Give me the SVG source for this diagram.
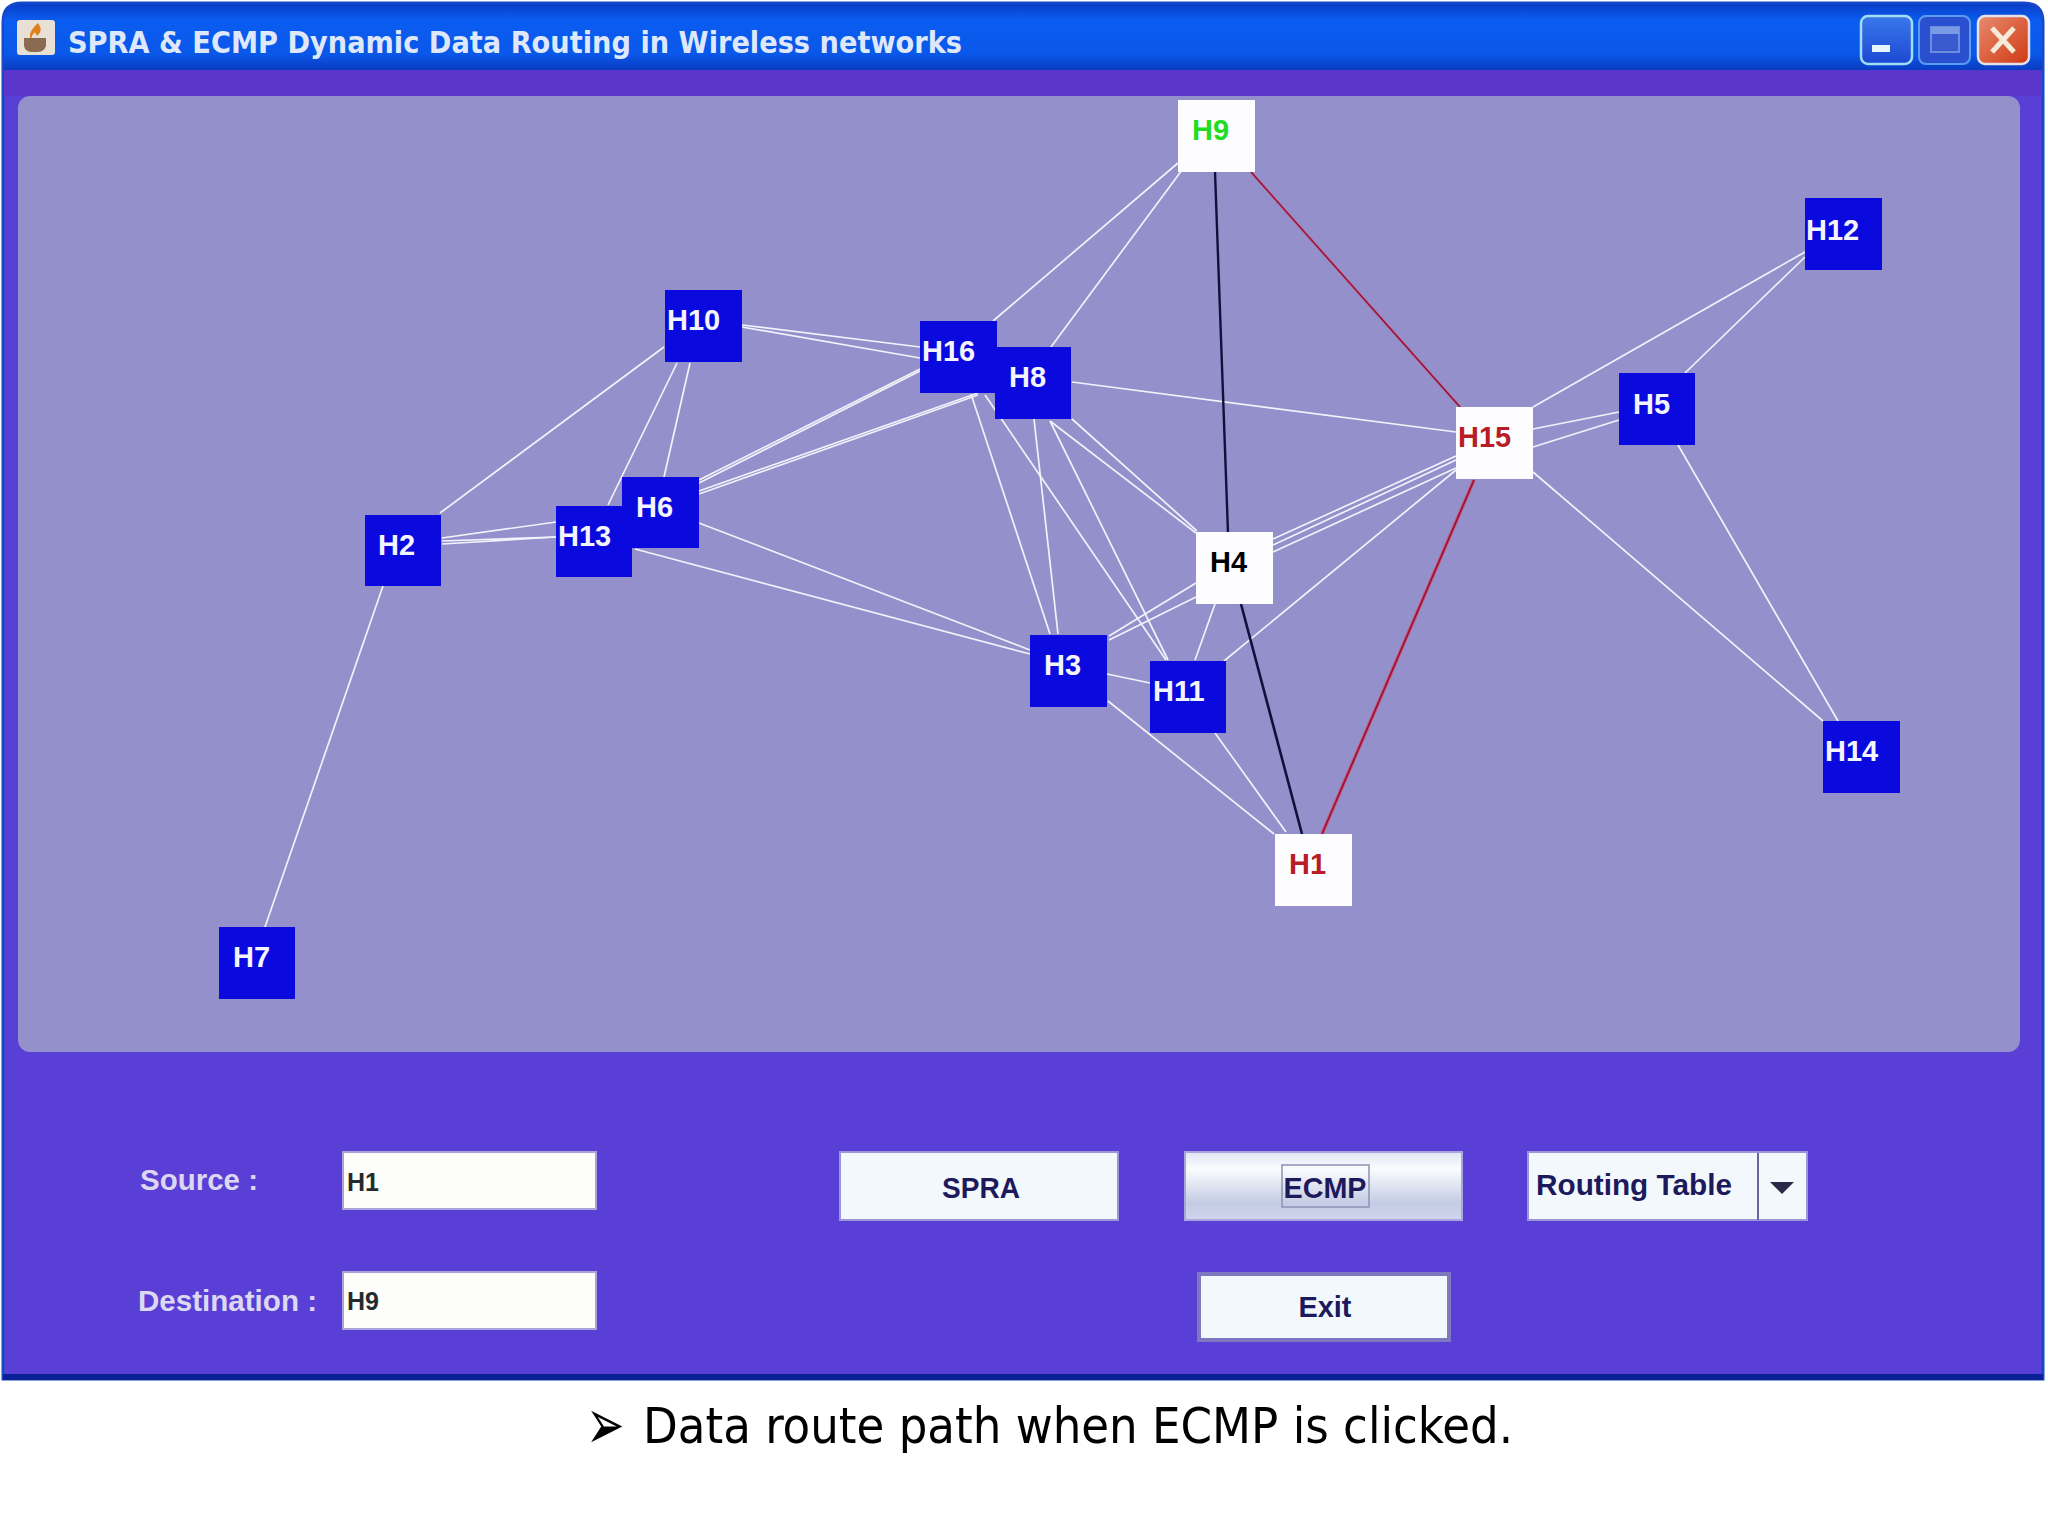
<svg xmlns="http://www.w3.org/2000/svg" width="2048" height="1536" viewBox="0 0 2048 1536">
<style>
.n{fill:#0a0ade}.w{fill:#fdfdff}
.nt{font:bold 29px "Liberation Sans",Arial,sans-serif;fill:#f4f4ff}
.e line{stroke:#f2f2fa;stroke-width:1.7}
.lab{font:bold 29px "Liberation Sans",Arial,sans-serif;fill:#dcd8f2}
.bt{font:bold 30px "Liberation Sans",Arial,sans-serif;fill:#1d1a5c}
.fld{fill:#fdfdfb;stroke:#a8a4d8;stroke-width:2}
.ft{font:bold 25px "Liberation Sans",Arial,sans-serif;fill:#222c2c}
.btn{fill:#f3f8fc;stroke:#9a96d8;stroke-width:2}
</style>
<defs>
<linearGradient id="tb" x1="0" y1="0" x2="0" y2="1"><stop offset="0" stop-color="#0a3fc8"/><stop offset=".25" stop-color="#0a5cf0"/><stop offset=".75" stop-color="#0a58ea"/><stop offset="1" stop-color="#0a3cc0"/></linearGradient>
<linearGradient id="ec" x1="0" y1="0" x2="0" y2="1"><stop offset="0" stop-color="#dfe6f4"/><stop offset=".25" stop-color="#fafcfe"/><stop offset=".75" stop-color="#c4cce4"/><stop offset="1" stop-color="#d0d5ee"/></linearGradient>
<linearGradient id="mn" x1="0" y1="0" x2="0" y2="1"><stop offset="0" stop-color="#3a78ea"/><stop offset="1" stop-color="#1c48d4"/></linearGradient>
<linearGradient id="cl" x1="0" y1="0" x2="1" y2="1"><stop offset="0" stop-color="#e88a70"/><stop offset="1" stop-color="#cf3a12"/></linearGradient>
</defs>
<rect width="2048" height="1536" fill="#fff"/>
<g id="window">
<path d="M3 1379V22Q3 3 22 3H2024Q2043 3 2043 22V1379Z" fill="#5a3fd6" stroke="#1648c8" stroke-width="3"/>
<path d="M4 22Q4 4 22 4H2024Q2042 4 2042 22V70H4Z" fill="url(#tb)"/>
<rect x="4" y="70" width="2038" height="26" fill="#5b36cc"/>
<rect x="3" y="1374" width="2040" height="6" fill="#0a2296"/>
<rect x="18" y="96" width="2002" height="956" rx="12" fill="#9390cc"/>
</g>
<g id="titlebar">
<rect x="17" y="20" width="38" height="35" rx="3" fill="#e8e0d4"/>
<path d="M38 23q6 8-1 13q-2-5-3-3q-4 4-1 8q-8-6 5-18Z" fill="#e0801c"/>
<path d="M24 38h22v8q-2 6-9 6h-4q-8 0-9-6Z" fill="#8a6a50"/>
<text x="68" y="53" font-family="'DejaVu Sans',Verdana,sans-serif" font-weight="bold" font-size="31" fill="#dfe8fb" textLength="894" lengthAdjust="spacingAndGlyphs">SPRA &amp; ECMP Dynamic Data Routing in Wireless networks</text>
<rect x="1861" y="16" width="51" height="48" rx="7" fill="url(#mn)" stroke="#9fdcf6" stroke-width="2.5"/>
<rect x="1872" y="45" width="18" height="7" fill="#e8f4fb"/>
<rect x="1919" y="16" width="51" height="48" rx="7" fill="#2a50cf" stroke="#5c9cf0" stroke-width="2"/>
<rect x="1931" y="27" width="28" height="25" fill="#3a5ad0" stroke="#6c8ee0" stroke-width="2"/>
<rect x="1931" y="27" width="28" height="7" fill="#7a9ae6"/>
<rect x="1978" y="16" width="51" height="48" rx="7" fill="url(#cl)" stroke="#e8e0e8" stroke-width="2.5"/>
<path d="M1992 28l22 24M2014 28l-22 24" stroke="#f6ead8" stroke-width="5" fill="none"/>
</g>
<g id="connectors">
<g class="e">
<line x1="1178" y1="163" x2="993" y2="321"/>
<line x1="1182" y1="170" x2="1051" y2="347"/>
<line x1="1805" y1="252" x2="1533" y2="407"/>
<line x1="1805" y1="257" x2="1685" y2="373"/>
<line x1="1533" y1="429" x2="1619" y2="412"/>
<line x1="1533" y1="447" x2="1619" y2="420"/>
<line x1="1533" y1="472" x2="1823" y2="721"/>
<line x1="1678" y1="445" x2="1838" y2="721"/>
<line x1="1072" y1="382" x2="1456" y2="432"/>
<line x1="1273" y1="539" x2="1456" y2="456"/>
<line x1="1273" y1="545" x2="1456" y2="460"/>
<line x1="1273" y1="552" x2="1456" y2="468"/>
<line x1="1224" y1="661" x2="1456" y2="470"/>
<line x1="1072" y1="419" x2="1197" y2="531"/>
<line x1="1050" y1="421" x2="1196" y2="533"/>
<line x1="971" y1="394" x2="1050" y2="634"/>
<line x1="1034" y1="419" x2="1058" y2="634"/>
<line x1="985" y1="395" x2="1166" y2="660"/>
<line x1="1050" y1="421" x2="1168" y2="660"/>
<line x1="1196" y1="583" x2="1109" y2="636"/>
<line x1="1196" y1="597" x2="1109" y2="640"/>
<line x1="1215" y1="604" x2="1195" y2="660"/>
<line x1="1107" y1="674" x2="1150" y2="683"/>
<line x1="1108" y1="701" x2="1274" y2="834"/>
<line x1="1215" y1="733" x2="1286" y2="832"/>
<line x1="742" y1="325" x2="920" y2="347"/>
<line x1="742" y1="327" x2="920" y2="358"/>
<line x1="699" y1="480" x2="920" y2="369"/>
<line x1="699" y1="483" x2="920" y2="371"/>
<line x1="699" y1="491" x2="978" y2="393"/>
<line x1="699" y1="494" x2="978" y2="395"/>
<line x1="664" y1="347" x2="440" y2="513"/>
<line x1="677" y1="363" x2="608" y2="505"/>
<line x1="690" y1="363" x2="664" y2="477"/>
<line x1="442" y1="538" x2="556" y2="522"/>
<line x1="442" y1="541" x2="556" y2="537"/>
<line x1="442" y1="544" x2="556" y2="537"/>
<line x1="699" y1="523" x2="1030" y2="650"/>
<line x1="635" y1="549" x2="1030" y2="654"/>
<line x1="383" y1="586" x2="265" y2="927"/>
</g>
<g fill="none">
<line x1="1215" y1="172" x2="1228" y2="533" stroke="#10103c" stroke-width="2.4"/>
<line x1="1241" y1="604" x2="1302" y2="834" stroke="#10103c" stroke-width="2.6"/>
<line x1="1251" y1="172" x2="1460" y2="407" stroke="#c85a80" stroke-width="2.6"/>
<line x1="1251" y1="172" x2="1460" y2="407" stroke="#8a1030" stroke-width="1.2"/>
<line x1="1474" y1="480" x2="1322" y2="834" stroke="#d24a70" stroke-width="3.4"/>
<line x1="1474" y1="480" x2="1322" y2="834" stroke="#8a1030" stroke-width="1.4"/>
</g>
</g>
<g id="H9"><rect class="w" x="1178" y="100" width="77" height="72"/><text class="nt" x="1192" y="140" style="fill:#22dc22">H9</text></g>
<g id="H12"><rect class="n" x="1805" y="198" width="77" height="72"/><text class="nt" x="1806" y="240">H12</text></g>
<g id="H10"><rect class="n" x="665" y="290" width="77" height="72"/><text class="nt" x="667" y="330">H10</text></g>
<g id="H16"><rect class="n" x="920" y="321" width="77" height="72"/><text class="nt" x="922" y="361">H16</text></g>
<g id="H8"><rect class="n" x="995" y="347" width="76" height="72"/><text class="nt" x="1009" y="387">H8</text></g>
<g id="H5"><rect class="n" x="1619" y="373" width="76" height="72"/><text class="nt" x="1633" y="414">H5</text></g>
<g id="H15"><rect class="w" x="1456" y="407" width="77" height="72"/><text class="nt" x="1458" y="447" style="fill:#b81c24">H15</text></g>
<g id="H13"><rect class="n" x="556" y="506" width="76" height="71"/><text class="nt" x="558" y="546">H13</text></g>
<g id="H6"><rect class="n" x="622" y="477" width="77" height="71"/><text class="nt" x="636" y="517">H6</text></g>
<g id="H2"><rect class="n" x="365" y="515" width="76" height="71"/><text class="nt" x="378" y="555">H2</text></g>
<g id="H4"><rect class="w" x="1196" y="532" width="77" height="72"/><text class="nt" x="1210" y="572" style="fill:#000">H4</text></g>
<g id="H3"><rect class="n" x="1030" y="635" width="77" height="72"/><text class="nt" x="1044" y="675">H3</text></g>
<g id="H11"><rect class="n" x="1150" y="661" width="76" height="72"/><text class="nt" x="1153" y="701">H11</text></g>
<g id="H14"><rect class="n" x="1823" y="721" width="77" height="72"/><text class="nt" x="1825" y="761">H14</text></g>
<g id="H1"><rect class="w" x="1275" y="834" width="77" height="72"/><text class="nt" x="1289" y="874" style="fill:#b81c24">H1</text></g>
<g id="H7"><rect class="n" x="219" y="927" width="76" height="72"/><text class="nt" x="233" y="967">H7</text></g>
<g id="controls">
<text class="lab" x="140" y="1190" textLength="118" lengthAdjust="spacingAndGlyphs">Source :</text>
<text class="lab" x="138" y="1311" textLength="179" lengthAdjust="spacingAndGlyphs">Destination :</text>
<rect class="fld" x="343" y="1152" width="253" height="57"/>
<rect class="fld" x="343" y="1272" width="253" height="57"/>
<text class="ft" x="347" y="1191">H1</text>
<text class="ft" x="347" y="1310">H9</text>
<g id="spra"><rect class="btn" x="840" y="1152" width="278" height="68"/><text class="bt" x="981" y="1198" text-anchor="middle" textLength="78" lengthAdjust="spacingAndGlyphs">SPRA</text></g>
<g id="ecmp"><rect x="1185" y="1152" width="277" height="68" fill="url(#ec)" stroke="#a8a6dc" stroke-width="2"/><rect x="1282" y="1165" width="87" height="42" fill="none" stroke="#8e90b4" stroke-width="1.5"/><text class="bt" x="1325" y="1198" text-anchor="middle" textLength="83" lengthAdjust="spacingAndGlyphs">ECMP</text></g>
<g id="routing"><rect class="btn" x="1528" y="1152" width="279" height="68"/><line x1="1758" y1="1153" x2="1758" y2="1220" stroke="#66669a" stroke-width="2"/><text class="bt" x="1536" y="1195" textLength="196" lengthAdjust="spacingAndGlyphs">Routing Table</text><path d="M1770 1182h24l-12 12Z" fill="#2a2a48"/></g>
<g id="exit"><rect x="1199" y="1274" width="250" height="66" fill="#f3f8fc" stroke="#7d78c0" stroke-width="4"/><text class="bt" x="1325" y="1317" text-anchor="middle" textLength="53" lengthAdjust="spacingAndGlyphs">Exit</text></g>
</g>
<text transform="translate(586,1449) scale(1.15,1.8)" font-family="'DejaVu Sans',sans-serif" font-size="40" fill="#000">➢</text>
<text x="643" y="1443" font-family="'DejaVu Sans Condensed','DejaVu Sans',sans-serif" font-size="50" fill="#000" textLength="870" lengthAdjust="spacingAndGlyphs">Data route path when ECMP is clicked.</text>
</svg>
